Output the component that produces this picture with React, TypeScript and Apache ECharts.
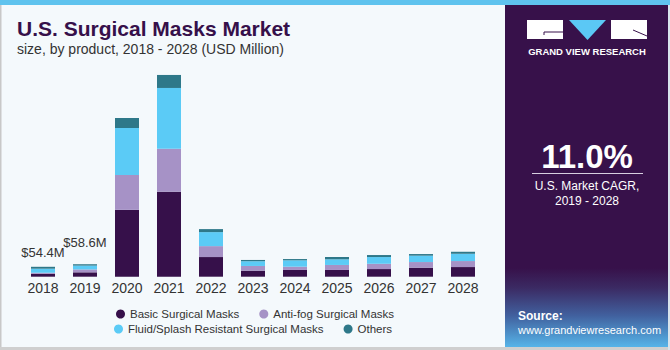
import React, { useEffect, useRef } from "react";
import * as echarts from "echarts";

const years = ["2018", "2019", "2020", "2021", "2022", "2023", "2024", "2025", "2026", "2027", "2028"];
const basic = [15.5, 24, 367, 467, 108, 33, 37, 37, 42, 49.5, 53];
const antiFog = [6.2, 16, 192, 236, 60, 26, 18, 27.5, 29, 31, 33];
const fluid = [22.3, 21, 258, 334, 77, 26, 35, 31, 37, 35, 40];
const others = [10.4, 7.5, 55, 71.5, 16.5, 7, 7, 12.6, 11, 9, 11];
const topLabels: Record<number, string> = { 0: "$54.4M", 1: "$58.6M" };
const labelDistance: Record<number, number> = { 0: 8, 1: 15 };

const FONT = "'Liberation Sans', Arial, sans-serif";

export default function App() {
  const ref = useRef<HTMLDivElement>(null);
  useEffect(() => {
    document.body.style.margin = "0";
    const chart = echarts.init(ref.current!, null, { renderer: "svg" });
    const barCommon = {
      type: "bar",
      stack: "total",
      barWidth: 24,
    };
    const legendCommon = {
      icon: "circle",
      itemWidth: 9,
      itemHeight: 9,
      itemGap: 20,
      textStyle: { fontSize: 11.5, color: "#333", fontFamily: FONT },
    };
    chart.setOption({
      animation: false,
      backgroundColor: "#f4f9fc",
      textStyle: { fontFamily: FONT },
      grid: { left: 22, right: 186, top: 58.3, bottom: 73.3, containLabel: false },
      xAxis: {
        type: "category",
        data: years,
        axisLine: { show: false },
        axisTick: { show: false },
        axisLabel: { fontSize: 14, color: "#333", margin: 4, fontFamily: FONT },
      },
      yAxis: { type: "value", min: 0, max: 1200, show: false, splitLine: { show: false } },
      legend: [
        { ...legendCommon, data: ["Basic Surgical Masks", "Anti-fog Surgical Masks"], left: 111, top: 303 },
        { ...legendCommon, data: ["Fluid/Splash Resistant Surgical Masks", "Others"], left: 109, top: 318 },
      ],
      series: [
        { ...barCommon, name: "Basic Surgical Masks", data: basic, itemStyle: { color: "#36104a" } },
        { ...barCommon, name: "Anti-fog Surgical Masks", data: antiFog, itemStyle: { color: "#a692c6" } },
        { ...barCommon, name: "Fluid/Splash Resistant Surgical Masks", data: fluid, itemStyle: { color: "#5bcbf6" } },
        {
          ...barCommon,
          name: "Others",
          itemStyle: { color: "#2e7889" },
          data: others.map((v, i) =>
            topLabels[i]
              ? {
                  value: v,
                  label: {
                    show: true,
                    position: "top",
                    distance: labelDistance[i],
                    formatter: topLabels[i],
                    fontSize: 13,
                    color: "#333",
                    fontFamily: FONT,
                  },
                }
              : v
          ),
        },
      ],
      graphic: [
        { type: "rect", z: 10, shape: { x: 0, y: 0, width: 670, height: 5 }, style: { fill: "#5fc3ee" } },
        { type: "rect", z: 10, shape: { x: 0, y: 5, width: 1.5, height: 345 }, style: { fill: "#c8c8c8" } },
        { type: "rect", z: 10, shape: { x: 0, y: 347, width: 670, height: 3 }, style: { fill: "#cfcfcf" } },
        { type: "rect", z: 10, shape: { x: 668, y: 5, width: 2, height: 345 }, style: { fill: "#d8e4ec" } },
        { type: "rect", z: 10, shape: { x: 505, y: 5, width: 163, height: 342 }, style: { fill: "#37114a" } },
        {
          type: "rect",
          z: 11,
          shape: { x: 505, y: 268, width: 163, height: 79 },
          style: {
            fill: new echarts.graphic.LinearGradient(0, 0, 0, 1, [
              { offset: 0, color: "#37114a" },
              { offset: 0.25, color: "#3b2a63" },
              { offset: 0.6, color: "#41609e" },
              { offset: 1, color: "#56b4e8" },
            ]),
          },
        },
        { type: "rect", z: 12, shape: { x: 527, y: 20, width: 36, height: 19 }, style: { fill: "#ffffff" } },
        { type: "polyline", z: 13, shape: { points: [[563, 32], [544, 32], [544, 35]] }, style: { stroke: "#37114a", lineWidth: 1, fill: null } },
        { type: "polygon", z: 12, shape: { points: [[569, 20], [606, 20], [587.5, 40]] }, style: { fill: "#5bc8f5" } },
        { type: "rect", z: 12, shape: { x: 611, y: 20, width: 36, height: 19 }, style: { fill: "#ffffff" } },
        { type: "polyline", z: 13, shape: { points: [[633, 30], [647, 36]] }, style: { stroke: "#37114a", lineWidth: 1, fill: null } },
        {
          type: "text",
          z: 12,
          style: {
            text: "GRAND VIEW RESEARCH",
            x: 587,
            y: 51,
            textAlign: "center",
            textVerticalAlign: "middle",
            font: `bold 9.5px ${FONT}`,
            fill: "#ffffff",
          },
        },
        {
          type: "text",
          z: 12,
          style: {
            text: "11.0%",
            x: 587,
            y: 156,
            textAlign: "center",
            textVerticalAlign: "middle",
            font: `bold 33px ${FONT}`,
            fill: "#ffffff",
          },
        },
        { type: "line", z: 12, shape: { x1: 532, y1: 173.5, x2: 643, y2: 173.5 }, style: { stroke: "#d8cfe0", lineWidth: 1 } },
        {
          type: "text",
          z: 12,
          style: {
            text: "U.S. Market CAGR,",
            x: 587,
            y: 186,
            textAlign: "center",
            textVerticalAlign: "middle",
            font: `12px ${FONT}`,
            fill: "#ffffff",
          },
        },
        {
          type: "text",
          z: 12,
          style: {
            text: "2019 - 2028",
            x: 587,
            y: 201,
            textAlign: "center",
            textVerticalAlign: "middle",
            font: `12px ${FONT}`,
            fill: "#ffffff",
          },
        },
        {
          type: "text",
          z: 12,
          style: {
            text: "Source:",
            x: 518,
            y: 316,
            textAlign: "left",
            textVerticalAlign: "middle",
            font: `bold 12px ${FONT}`,
            fill: "#ffffff",
          },
        },
        {
          type: "text",
          z: 12,
          style: {
            text: "www.grandviewresearch.com",
            x: 518,
            y: 330,
            textAlign: "left",
            textVerticalAlign: "middle",
            font: `11px ${FONT}`,
            fill: "#ffffff",
          },
        },
        {
          type: "text",
          z: 12,
          style: {
            text: "U.S. Surgical Masks Market",
            x: 17,
            y: 28.5,
            textAlign: "left",
            textVerticalAlign: "middle",
            font: `bold 21px ${FONT}`,
            fill: "#36104a",
          },
        },
        {
          type: "text",
          z: 12,
          style: {
            text: "size, by product, 2018 - 2028 (USD Million)",
            x: 17,
            y: 49,
            textAlign: "left",
            textVerticalAlign: "middle",
            font: `14px ${FONT}`,
            fill: "#333333",
          },
        },
      ],
    });
    return () => chart.dispose();
  }, []);
  return <div ref={ref} style={{ width: 670, height: 350 }} />;
}
